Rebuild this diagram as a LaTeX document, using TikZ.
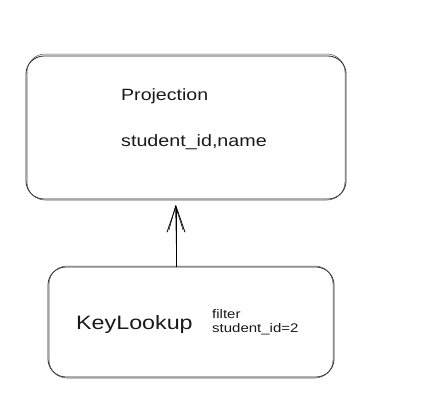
\documentclass[tikz,border=0pt]{standalone}
\usepackage{fontspec}
\setmainfont{Liberation Sans}
\newfontfamily\skfont[FakeStretch=1.2]{Liberation Sans}
\usetikzlibrary{arrows.meta}
\begin{document}
\begin{tikzpicture}[x=1pt,y=-1pt,
  sk/.style={draw=black!85,line width=0.8pt,rounded corners=18pt},
  sk2/.style={draw=black!70,line width=0.5pt,rounded corners=18pt},
  lbl/.style={anchor=west,inner sep=0pt,text=black!90}]
\useasboundingbox (0,0) rectangle (425,400);
% Projection box
\draw[sk] (26,56) rectangle (346,199);
\draw[sk2] (27,54) rectangle (345,200);
\node[lbl,font=\skfont\fontsize{16.3}{19}\selectfont] (p1) at (121,96) {Projection};
\node[lbl,font=\skfont\fontsize{16.4}{19}\selectfont] (p2) at (121,142) {student\_id,name};
\coordinate (ptop) at (176,205);
% KeyLookup box
\draw[sk] (48,267) rectangle (334,377);
\draw[sk2] (49,266) rectangle (333,378);
\node[lbl,font=\skfont\fontsize{19.4}{22}\selectfont] (k) at (76,324) {KeyLookup};
\node[lbl,font=\skfont\fontsize{12.5}{14}\selectfont,align=left] (f) at (212,322) {filter\\student\_id=2};
\coordinate (kbot) at (176,267);
% arrow
\draw[line width=0.8pt,-{Straight Barb[length=26pt,width=18pt]}] (kbot) -- (ptop);
\draw[line width=0.5pt,-{Straight Barb[length=24pt,width=14pt]}] ([xshift=0.7]kbot) -- ([xshift=-0.5]ptop);
\end{tikzpicture}
\end{document}
